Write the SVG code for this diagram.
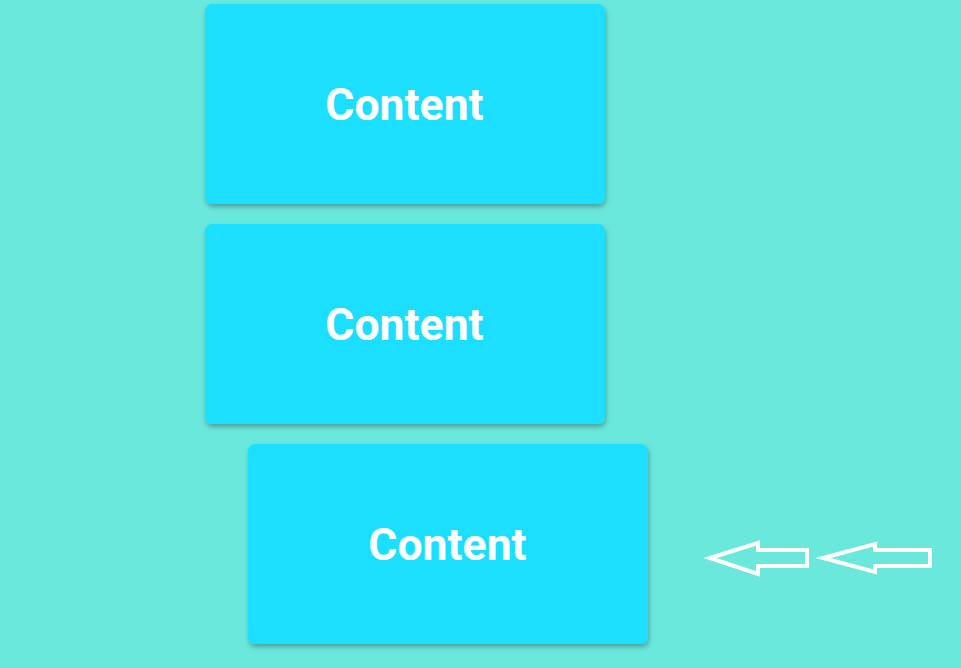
<svg xmlns="http://www.w3.org/2000/svg" width="961" height="668" viewBox="0 0 961 668">
<defs>
<filter id="sh" x="-10%" y="-10%" width="120%" height="125%">
<feDropShadow dx="1" dy="3" stdDeviation="2.5" flood-color="#000" flood-opacity="0.3"/>
</filter>
<style>
.card{fill:#1adeff;filter:url(#sh)}
.lbl{font-family:Roboto,"Liberation Sans",sans-serif;font-weight:bold;font-size:44.5px;fill:#fff;text-anchor:middle}
.arr{fill:none;stroke:#fff;stroke-width:4;stroke-linejoin:miter}
</style>
</defs>
<rect width="961" height="668" fill="#6ae8dc"/>
<g id="card1"><rect class="card" x="205" y="4" width="400" height="200" rx="7"/><text class="lbl" x="404.5" y="119.5">Content</text></g>
<g id="card2"><rect class="card" x="205" y="224" width="400" height="200" rx="7"/><text class="lbl" x="404.5" y="339.5">Content</text></g>
<g id="card3"><rect class="card" x="248" y="444" width="400" height="200" rx="7"/><text class="lbl" x="447.5" y="559.5">Content</text></g>
<g id="connectors">
<polygon class="arr" points="710,558 758,543 758,550 807,550 807,566 758,566 758,574"/>
<polygon class="arr" points="823,558 875,544 875,550 930,550 930,566 875,566 875,572"/>
</g>
</svg>
